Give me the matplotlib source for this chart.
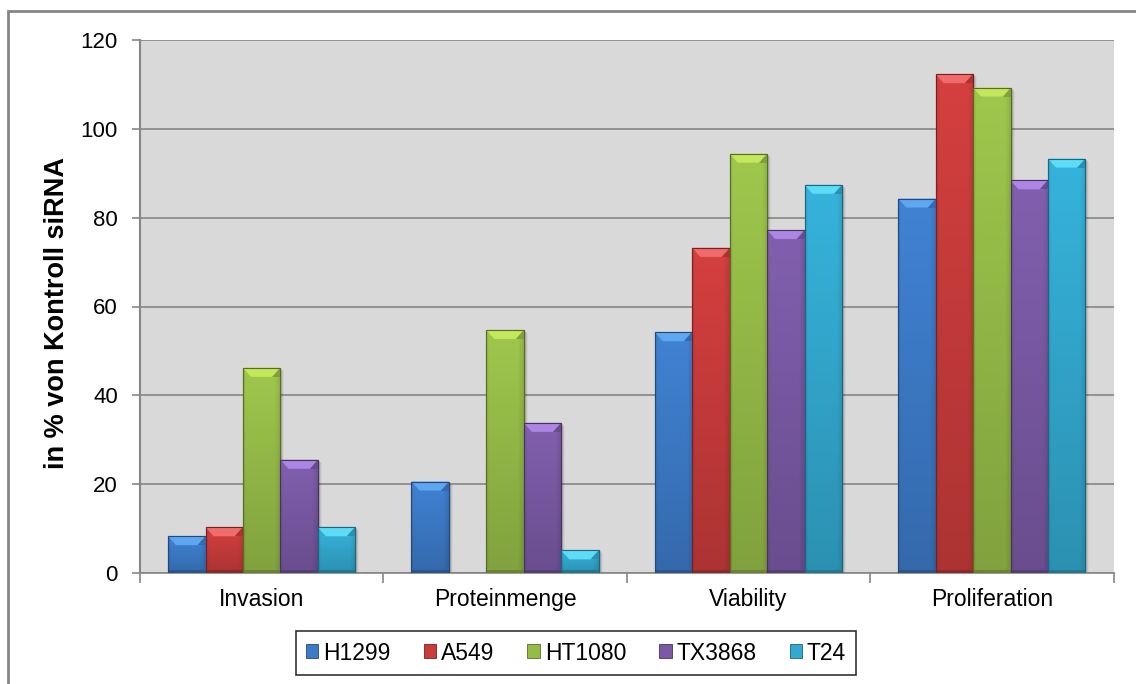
import numpy as np
import matplotlib.pyplot as plt
import matplotlib.patches as mpatches
from matplotlib.colors import to_rgb

plt.rcParams['font.family'] = ['Liberation Sans', 'DejaVu Sans']

# data
categories = ["Invasion", "Proteinmenge", "Viability", "Proliferation"]
lines = ["H1299", "A549", "HT1080", "TX3868", "T24"]
h1299 = [8.3, 20.6, 54.2, 84.3]
a549 = [10.3, 0.0, 73.2, 112.3]
ht1080 = [46.2, 54.7, 94.4, 109.3]
tx3868 = [25.5, 33.8, 77.2, 88.4]
t24 = [10.3, 5.1, 87.4, 93.3]
series = [h1299, a549, ht1080, tx3868, t24]

body = ["#3D7BC8", "#C83C3B", "#96BC48", "#7A5AA5", "#33A9CF"]
cap = ["#5EA6F0", "#F06C6C", "#C4E85C", "#AC86E2", "#5CDCF6"]
edge = ["#24487A", "#7A2020", "#566E22", "#473263", "#1D6680"]

grey = "#868686"

fig = plt.figure(figsize=(11.36, 6.84), dpi=100)
ax = fig.add_axes([140 / 1136, 1 - 573 / 684, (1113.5 - 140) / 1136, (573 - 40) / 684])
ax.set_facecolor("#D9D9D9")

n = len(series)
width = 1 / (n + 1.5)
x = np.arange(len(categories))

ax.set_xlim(-0.5, len(categories) - 0.5)
ax.set_ylim(0, 120)

# pixel size in data units, for the bevel details
p0 = ax.transData.transform((0, 0))
p1 = ax.transData.transform((1, 1))
pxx = 1 / (p1[0] - p0[0])
pxy = 1 / (p1[1] - p0[1])


def shade(c, f):
    r = np.array(to_rgb(c)) * f
    return np.clip(r, 0, 1)


for i, vals in enumerate(series):
    pos = x + (i - (n - 1) / 2) * width
    bars = ax.bar(pos, vals, width, color=body[i], edgecolor=edge[i],
                  linewidth=0.8, zorder=3)
    for b in bars:
        x0, w, h = b.get_x(), b.get_width(), b.get_height()
        if h <= 0:
            continue
        # soft shadow
        for k, a in enumerate([0.10, 0.07, 0.04]):
            ax.add_patch(mpatches.Rectangle((x0 + (2 + k) * pxx, -(1 + k) * pxy), w, h,
                                            color="k", alpha=a, lw=0, zorder=2))
        # body gradient
        ny, nx = 60, 40
        vy = np.linspace(1.06, 0.86, ny)[:, None]
        u = np.linspace(0, 1, nx)[None, :]
        vx = 1 - 0.10 * np.clip((u - 0.85) / 0.15, 0, 1) - 0.08 * np.clip((0.08 - u) / 0.08, 0, 1)
        img = np.clip(np.array(to_rgb(body[i]))[None, None, :] * (vy * vx)[:, :, None], 0, 1)
        im = ax.imshow(img, extent=(x0, x0 + w, 0, h), aspect="auto",
                       interpolation="bilinear", zorder=3.1)
        im.set_clip_path(b)
        # top bevel
        ch = min(9 * pxy, h * 0.5)
        ins = 8 * pxx
        ax.add_patch(mpatches.Polygon([(x0, h), (x0 + w, h), (x0 + w - ins, h - ch), (x0 + ins, h - ch)],
                                      closed=True, color=cap[i], lw=0, zorder=3.2))
        ax.add_patch(mpatches.Polygon([(x0 + w, h), (x0 + w, h - ch), (x0 + w - ins, h - ch)],
                                      closed=True, color=shade(body[i], 0.85), lw=0, zorder=3.2))
        # bottom strip
        ax.add_patch(mpatches.Rectangle((x0, 0), w, min(3 * pxy, h), color=shade(body[i], 0.7),
                                        lw=0, zorder=3.2))
        ax.add_patch(mpatches.Rectangle((x0, 0), w, h, fill=False, edgecolor=edge[i],
                                        lw=0.8, zorder=3.3))

ax.set_xlim(-0.5, len(categories) - 0.5)
ax.set_ylim(0, 120)

# axes styling
for s in ["top", "right"]:
    ax.spines[s].set_visible(False)
ax.spines["left"].set_color(grey)
ax.spines["bottom"].set_color(grey)
ax.spines["left"].set_linewidth(1.5)
ax.spines["bottom"].set_linewidth(1.2)
ax.set_yticks(range(0, 121, 20))
ax.yaxis.grid(True, color=grey, linewidth=1.2, zorder=1)
ax.set_axisbelow(True)
ax.tick_params(axis="y", length=6, color=grey, width=1.2, labelsize=16, pad=10)

ax.set_xticks(np.arange(len(categories) + 1) - 0.5)
ax.set_xticklabels([])
ax.set_xticks(x, minor=True)
ax.set_xticklabels(categories, minor=True)
ax.tick_params(axis="x", which="major", length=7, color=grey, width=1.2)
ax.tick_params(axis="x", which="minor", length=0, labelsize=16.5, pad=11)

ax.set_ylabel("in % von Kontroll siRNA", fontsize=19.5, fontweight="bold")
ax.yaxis.set_label_coords(-0.0719, 0.488)

# legend
handles = [mpatches.Patch(facecolor=body[i], edgecolor=edge[i], lw=0.6) for i in range(n)]
leg = fig.legend(handles, lines, loc="center", bbox_to_anchor=(576 / 1136, 1 - 653 / 684),
                 ncol=5, fontsize=16.5, frameon=True, fancybox=False, handlelength=0.55,
                 handleheight=0.55, handletextpad=0.2, columnspacing=1.45,
                 borderpad=0.45, edgecolor="black")
leg.get_frame().set_linewidth(1.2)

# chart border
fig.add_artist(mpatches.Rectangle((8 / 1136, -0.1), 2, 1 - 11 / 684 + 0.1,
                                  transform=fig.transFigure, fill=False,
                                  edgecolor=grey, linewidth=2))

fig.savefig("out.png", dpi=100)
